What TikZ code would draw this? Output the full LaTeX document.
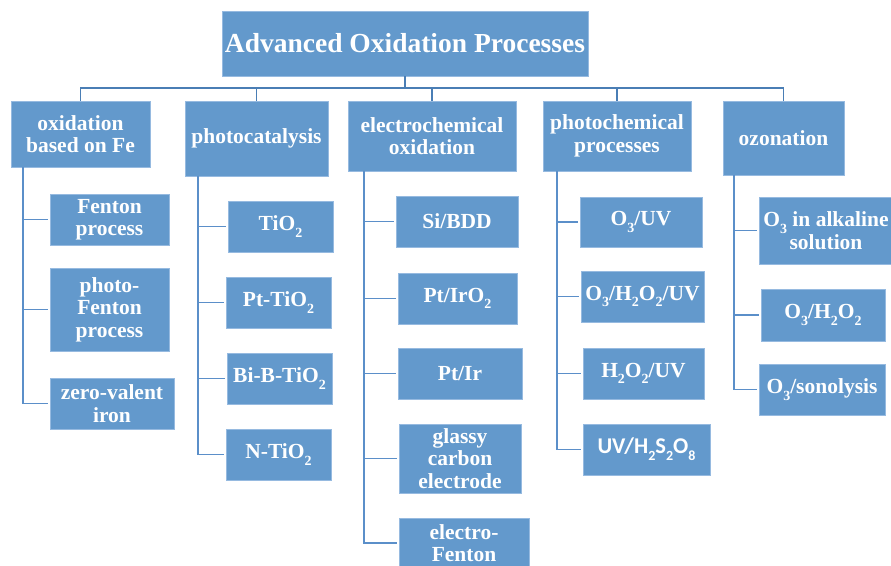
\documentclass[tikz,border=0pt]{standalone}
\usepackage{fontspec}
\setmainfont{Liberation Serif}
\newfontfamily\calib{Carlito}
\usetikzlibrary{calc}
\definecolor{boxfill}{RGB}{99,153,204}
\definecolor{boxedge}{RGB}{150,186,224}
\definecolor{busline}{RGB}{74,126,181}
\definecolor{subline}{RGB}{91,143,201}
\newcommand{\sbs}[1]{\raisebox{-0.3em}{\fontsize{14}{14}\selectfont #1}}
\begin{document}
\begin{tikzpicture}[x=1pt,y=-1pt,
  box/.style={rectangle, fill=boxfill, draw=boxedge, line width=0.6pt, inner sep=0pt,
    text=white, align=center, font=\bfseries\fontsize{21.5}{22.5}\selectfont},
  titlebox/.style={box, font=\bfseries\fontsize{27.5}{30}\selectfont},
  bus/.style={draw=busline, line width=1.8pt},
  conn/.style={draw=subline, line width=1.8pt},
  leg/.style={conn, shorten <=2pt}]
\useasboundingbox (0,0) rectangle (891,565);
% title
\node[titlebox, minimum width=366pt, minimum height=65pt] (title) at (405,43.5) {Advanced Oxidation Processes};
% level 1
\node[box, minimum width=139pt, minimum height=66pt] (fe) at (80.5,134) {oxidation\\based on Fe};
\node[box, minimum width=143pt, minimum height=75pt] (photo) at (256.5,138.5) {photocatalysis};
\node[box, minimum width=168pt, minimum height=70pt] (electro) at (432,136) {electrochemical\\oxidation};
\node[box, minimum width=148pt, minimum height=70pt] (pchem) at (617,136) {photochemical\\processes};
\node[box, minimum width=121pt, minimum height=74pt] (ozon) at (783.5,138) {ozonation};
% bus
\coordinate (busc) at (405,88);
\draw[bus] (title.south) -- (busc);
\draw[bus] (fe.north) -- (fe.north |- busc) -- (ozon.north |- busc) -- (ozon.north);
\draw[bus] (photo.north) -- (photo.north |- busc);
\draw[bus] (electro.north) -- (electro.north |- busc);
\draw[bus] (pchem.north) -- (pchem.north |- busc);
% column 1
\node[box, minimum width=119pt, minimum height=51pt] (fenton) at (109.5,219.5) {Fenton\\process};
\node[box, minimum width=119pt, minimum height=83pt] (pfenton) at (109.5,309.5) {photo-\\Fenton\\process};
\node[box, minimum width=124pt, minimum height=51pt] (zvi) at (112,403.5) {zero-valent\\iron};
\coordinate (v1) at ($(fe.south west)+(12,0)$);
\draw[conn] (v1) |- ($(zvi.west)+(-2,0)$);
\draw[leg] (fenton.west) -- (fenton.west -| v1);
\draw[leg] (pfenton.west) -- (pfenton.west -| v1);
% column 2
\node[box, minimum width=105pt, minimum height=51pt] (tio) at (280.5,226.5) {TiO\sbs{2}};
\node[box, minimum width=105pt, minimum height=51pt] (pttio) at (278.5,302.5) {Pt-TiO\sbs{2}};
\node[box, minimum width=105pt, minimum height=51pt] (bibtio) at (279.5,378.5) {Bi-B-TiO\sbs{2}};
\node[box, minimum width=105pt, minimum height=51pt] (ntio) at (278.5,454.5) {N-TiO\sbs{2}};
\coordinate (v2) at ($(photo.south west)+(13,0)$);
\draw[conn] (v2) |- ($(ntio.west)+(-2,0)$);
\draw[leg] (tio.west) -- (tio.west -| v2);
\draw[leg] (pttio.west) -- (pttio.west -| v2);
\draw[leg] (bibtio.west) -- (bibtio.west -| v2);
% column 3
\node[box, minimum width=122pt, minimum height=51pt] (sibdd) at (457,221.5) {Si/BDD};
\node[box, minimum width=119pt, minimum height=51pt] (ptiro) at (457.5,298.5) {Pt/IrO\sbs{2}};
\node[box, minimum width=124pt, minimum height=51pt] (ptir) at (460,373.5) {Pt/Ir};
\node[box, minimum width=122pt, minimum height=69pt] (glassy) at (460,458.5) {glassy\\carbon\\electrode};
\node[box, minimum width=130pt, minimum height=50pt] (efenton) at (464,543) {electro-\\Fenton};
\coordinate (v3) at ($(electro.south west)+(16,0)$);
\draw[conn] (v3) |- ($(efenton.west)+(-2,0)$);
\draw[leg] (sibdd.west) -- (sibdd.west -| v3);
\draw[leg] (ptiro.west) -- (ptiro.west -| v3);
\draw[leg] (ptir.west) -- (ptir.west -| v3);
\draw[leg] (glassy.west) -- (glassy.west -| v3);
% column 4
\node[box, minimum width=122pt, minimum height=50pt] (ouv) at (641,222) {O\sbs{3}/UV};
\node[box, minimum width=123pt, minimum height=51pt] (ohouv) at (642.5,296.5) {O\sbs{3}/H\sbs{2}O\sbs{2}/UV};
\node[box, minimum width=121pt, minimum height=51pt] (houv) at (643.5,373.5) {H\sbs{2}O\sbs{2}/UV};
\node[box, minimum width=127pt, minimum height=51pt] (uvhso) at (646.5,449.5) {\calib\bfseries\fontsize{22.5}{23}\selectfont UV/H\sbs{2}S\sbs{2}O\sbs{8}};
\coordinate (v4) at ($(pchem.south west)+(14,0)$);
\draw[conn] (v4) |- ($(uvhso.west)+(-2,0)$);
\draw[leg] (ouv.west) -- (ouv.west -| v4);
\draw[leg] (ohouv.west) -- (ohouv.west -| v4);
\draw[leg] (houv.west) -- (houv.west -| v4);
% column 5
\node[box, minimum width=134pt, minimum height=67pt] (oalk) at (826,230.5) {O\sbs{3} in alkaline\\solution};
\node[box, minimum width=124pt, minimum height=52pt] (oho) at (823,315) {O\sbs{3}/H\sbs{2}O\sbs{2}};
\node[box, minimum width=126pt, minimum height=51pt] (osono) at (822,389.5) {O\sbs{3}/sonolysis};
\coordinate (v5) at ($(ozon.south west)+(11,0)$);
\draw[conn] (v5) |- ($(osono.west)+(-2,0)$);
\draw[leg] (oalk.west) -- (oalk.west -| v5);
\draw[leg] (oho.west) -- (oho.west -| v5);
\end{tikzpicture}
\end{document}
